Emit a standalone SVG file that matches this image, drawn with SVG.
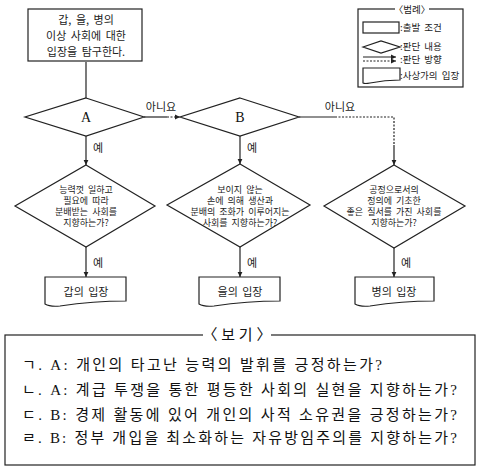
<svg xmlns="http://www.w3.org/2000/svg" width="482" height="472" viewBox="0 0 482 472">
<style>
.ln{fill:none;stroke:#222;stroke-width:1.2}
.shp{fill:#fff;stroke:#222;stroke-width:1.2}
.dot{fill:none;stroke:#222;stroke-width:1.2;stroke-dasharray:2 1.5}
.k{font-family:"Noto Sans CJK KR","Noto Sans",sans-serif;fill:#222;text-anchor:middle;word-spacing:2px}
.t11{font-size:11px}
.t9{font-size:9px}
.lg{font-family:"Noto Sans CJK KR",sans-serif;font-size:9.5px;fill:#222;word-spacing:2px}
.s{font-family:"Liberation Serif","Noto Sans CJK KR",serif;fill:#111}
</style>
<defs>
<marker id="ah" markerWidth="6" markerHeight="6" refX="5" refY="3" orient="auto" markerUnits="userSpaceOnUse">
<path d="M0,0.6 L5,3 L0,5.4 Z" fill="#222"/>
</marker>
</defs>

<g id="connectors">
<path class="ln" d="M86,62 V98"/>
<path class="ln" d="M144,117 H167"/>
<path class="dot" d="M167,117 H180" marker-end="url(#ah)"/>
<path class="ln" d="M299,117 H335"/>
<path class="dot" d="M335,117 H394 V145"/>
<path class="ln" d="M394,145 V165" marker-end="url(#ah)"/>
<path class="ln" d="M86,136 V165" marker-end="url(#ah)"/>
<path class="ln" d="M240,136 V164" marker-end="url(#ah)"/>
<path class="ln" d="M86,247 V277" marker-end="url(#ah)"/>
<path class="ln" d="M240,247 V277" marker-end="url(#ah)"/>
<path class="ln" d="M394,248 V277" marker-end="url(#ah)"/>
<text class="k t11" x="161" y="111">아니요</text>
<text class="k t11" x="340" y="111">아니요</text>
<text class="k t11" x="98" y="152">예</text>
<text class="k t11" x="252" y="152">예</text>
<text class="k t11" x="98" y="267">예</text>
<text class="k t11" x="252" y="267">예</text>
<text class="k t11" x="406" y="267">예</text>
</g>

<g id="start">
<rect class="shp" x="28" y="9" width="114" height="52"/>
<text class="k t11" x="86" y="24">갑, 을, 병의</text>
<text class="k t11" x="86" y="40">이상 사회에 대한</text>
<text class="k t11" x="86" y="56">입장을 탐구한다.</text>
</g>

<g id="A">
<polygon class="shp" points="86,98 144,117 86,136 25,117"/>
<text class="s" x="86" y="122" font-size="14" text-anchor="middle">A</text>
</g>

<g id="B">
<polygon class="shp" points="240,98 299,117 240,136 180,117"/>
<text class="s" x="240" y="122" font-size="14" text-anchor="middle">B</text>
</g>

<g id="q1">
<polygon class="shp" points="86,165 155,206 86,247 15,206"/>
<text class="k t9" x="86" y="193">능력껏 일하고</text>
<text class="k t9" x="86" y="204">필요에 따라</text>
<text class="k t9" x="86" y="215">분배받는 사회를</text>
<text class="k t9" x="86" y="226">지향하는가?</text>
</g>

<g id="q2">
<polygon class="shp" points="240,164 310,205 240,247 167,205"/>
<text class="k t9" x="240" y="193">보이지 않는</text>
<text class="k t9" x="240" y="204">손에 의해 생산과</text>
<text class="k t9" x="240" y="215">분배의 조화가 이루어지는</text>
<text class="k t9" x="240" y="226">사회를 지향하는가?</text>
</g>

<g id="q3">
<polygon class="shp" points="394,165 465,206 394,248 324,206"/>
<text class="k t9" x="394" y="193">공정으로서의</text>
<text class="k t9" x="394" y="204">정의에 기초한</text>
<text class="k t9" x="394" y="215">좋은 질서를 가진 사회를</text>
<text class="k t9" x="394" y="226">지향하는가?</text>
</g>

<g id="r1">
<path class="shp" d="M45,277 H126 V301 C104,301 80,303 60,306 Q50,307 45,304 Z"/>
<text class="k t11" x="86" y="296">갑의 입장</text>
</g>
<g id="r2">
<path class="shp" d="M199,277 H280 V301 C258,301 234,303 214,306 Q204,307 199,304 Z"/>
<text class="k t11" x="240" y="296">을의 입장</text>
</g>
<g id="r3">
<path class="shp" d="M355,277 H434 V301 C412,301 389,303 370,306 Q360,307 355,304 Z"/>
<text class="k t11" x="394" y="296">병의 입장</text>
</g>

<g id="legend">
<rect class="shp" x="358" y="9" width="105" height="78"/>
<rect x="395" y="4" width="34" height="10" fill="#fff"/>
<text class="lg" x="412" y="13" text-anchor="middle">〈범례〉</text>
<rect class="shp" x="363" y="22" width="36" height="11" stroke-width="1"/>
<text class="lg" x="400" y="31">:출발 조건</text>
<polygon class="shp" points="363,47 381,41 400,47 381,53" stroke-width="1"/>
<text class="lg" x="400" y="50">:판단 내용</text>
<path class="ln" d="M363,57 H396" stroke-width="1" marker-end="url(#ah)"/>
<path class="dot" d="M363,61 H396" stroke-width="1" marker-end="url(#ah)"/>
<text class="lg" x="400" y="63">:판단 방향</text>
<path class="shp" d="M363,68 H400 V80 C390,80 380,81 370,83 Q365,84 363,83 Z" stroke-width="1"/>
<text class="lg" x="400" y="79">:사상가의 입장</text>
</g>

<g id="bogi">
<rect x="5" y="335" width="470" height="130" fill="#fff" stroke="#222" stroke-width="1.2"/>
<rect x="203" y="326" width="68" height="16" fill="#fff"/>
<text class="s" x="237" y="340" font-size="15" text-anchor="middle">〈 보 기 〉</text>
<text class="s" x="22" y="370" font-size="15" textLength="360" lengthAdjust="spacing">ㄱ. A: 개인의 타고난 능력의 발휘를 긍정하는가?</text>
<text class="s" x="22" y="395" font-size="15" textLength="435" lengthAdjust="spacing">ㄴ. A: 계급 투쟁을 통한 평등한 사회의 실현을 지향하는가?</text>
<text class="s" x="22" y="420" font-size="15" textLength="435" lengthAdjust="spacing">ㄷ. B: 경제 활동에 있어 개인의 사적 소유권을 긍정하는가?</text>
<text class="s" x="22" y="443" font-size="15" textLength="435" lengthAdjust="spacing">ㄹ. B: 정부 개입을 최소화하는 자유방임주의를 지향하는가?</text>
</g>
</svg>
